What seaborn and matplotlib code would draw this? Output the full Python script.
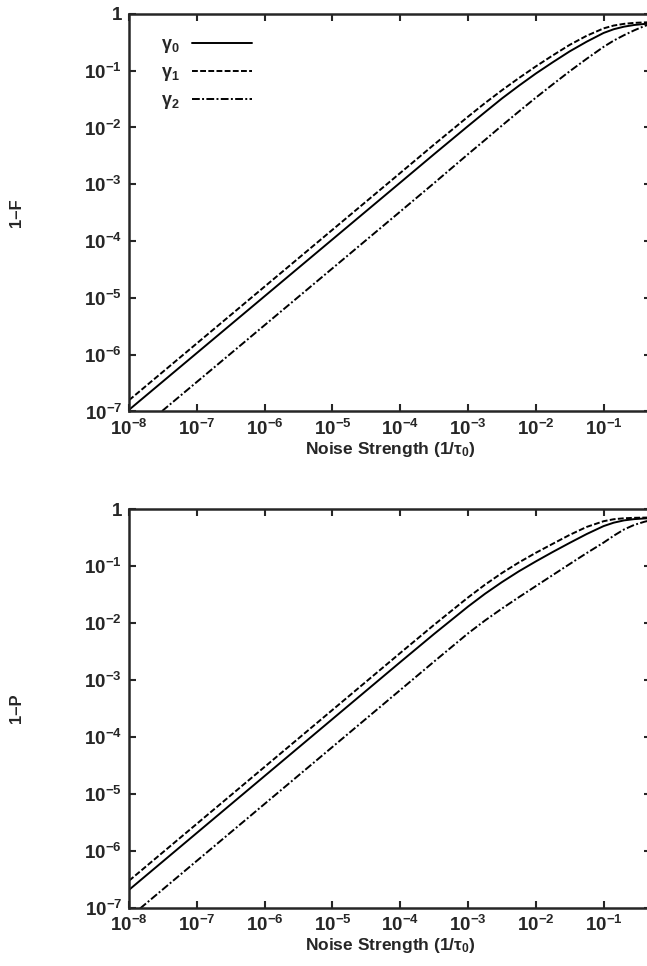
import numpy as np
import pandas as pd
import matplotlib
matplotlib.use("Agg")
import matplotlib.pyplot as plt
import seaborn as sns
from matplotlib.ticker import FixedLocator, FuncFormatter, NullLocator

# ---- data ----
noise = [1e-8, 1e-4, 3.16e-4, 1e-3, 1.78e-3, 3.16e-3, 5.62e-3, 1e-2, 1.78e-2,
         3.16e-2, 5.62e-2, 0.1, 0.141, 0.2, 0.282, 0.398, 0.5]

# top panel: 1-F
F_g0 = [1.07e-7, 1.07e-3, 3.39e-3, 0.0106, 0.0186, 0.0324, 0.0543, 0.0891, 0.141,
        0.219, 0.324, 0.462, 0.537, 0.596, 0.638, 0.665, 0.676]
F_g1 = [1.58e-7, 1.58e-3, 5.01e-3, 0.0155, 0.0269, 0.0452, 0.0741, 0.119, 0.186,
        0.285, 0.412, 0.556, 0.624, 0.668, 0.695, 0.708, 0.713]
F_g2 = [3.31e-8, 3.31e-4, 1.05e-3, 3.39e-3, 6.03e-3, 0.0108, 0.0191, 0.0335, 0.0575,
        0.0977, 0.162, 0.263, 0.339, 0.422, 0.513, 0.610, 0.668]

# bottom panel: 1-P
P_g0 = [2.04e-7, 2.04e-3, 6.38e-3, 0.0193, 0.0324, 0.0519, 0.0804, 0.120, 0.176,
        0.254, 0.363, 0.501, 0.575, 0.631, 0.664, 0.682, 0.692]
P_g1 = [2.95e-7, 2.95e-3, 9.23e-3, 0.0279, 0.0468, 0.075, 0.115, 0.170, 0.245,
        0.351, 0.484, 0.610, 0.661, 0.687, 0.700, 0.706, 0.708]
P_g2 = [6.6e-8, 6.6e-4, 2.09e-3, 6.53e-3, 0.011, 0.0178, 0.0282, 0.0442, 0.0692,
        0.108, 0.168, 0.257, 0.339, 0.437, 0.525, 0.596, 0.638]

series_names = [r"$\gamma_0$", r"$\gamma_1$", r"$\gamma_2$"]
x_ticks = [1e-8, 1e-7, 1e-6, 1e-5, 1e-4, 1e-3, 1e-2, 1e-1]
y_ticks = [1e-7, 1e-6, 1e-5, 1e-4, 1e-3, 1e-2, 1e-1, 1]
x_label = r"Noise Strength (1/$\tau_0$)"
y_labels = ["1\u2013F", "1\u2013P"]

# ---- style ----
sns.set_style("ticks")
plt.rcParams["font.family"] = ["Liberation Sans", "DejaVu Sans"]
plt.rcParams["font.weight"] = "bold"
plt.rcParams["mathtext.fontset"] = "custom"
plt.rcParams["mathtext.rm"] = "Liberation Sans:bold"
plt.rcParams["mathtext.bf"] = "Liberation Sans:bold"
plt.rcParams["mathtext.it"] = "Liberation Sans:bold"
plt.rcParams["mathtext.sf"] = "Liberation Sans:bold"

def make_df(a, b, c):
    rows = []
    for name, vals in zip(series_names, [a, b, c]):
        for x, y in zip(noise, vals):
            rows.append({"noise": x, "val": y, "gamma": name})
    return pd.DataFrame(rows)

dashes = {series_names[0]: "", series_names[1]: (3, 1.2), series_names[2]: (4, 1.2, 1, 1.2)}

fig = plt.figure(figsize=(6.47, 9.66), dpi=100)
W, H = 647.0, 966.0
left_px, right_px = 129.0, 651.0
ax_top = fig.add_axes([left_px / W, 1 - 411.5 / H, (right_px - left_px) / W, (411.5 - 13.9) / H])
ax_bot = fig.add_axes([left_px / W, 1 - 907.5 / H, (right_px - left_px) / W, (907.5 - 509.0) / H])

def fmt(v, pos):
    e = int(round(np.log10(v)))
    if e == 0:
        return "1"
    return r"$\mathbf{10^{%d}}$" % e

for ax, df, ylab, leg in [(ax_top, make_df(F_g0, F_g1, F_g2), y_labels[0], True),
                          (ax_bot, make_df(P_g0, P_g1, P_g2), y_labels[1], False)]:
    sns.lineplot(data=df, x="noise", y="val", style="gamma", dashes=dashes,
                 color="black", linewidth=1.4, ax=ax, legend=leg,
                 style_order=series_names)
    ax.set_xscale("log")
    ax.set_yscale("log")
    ax.set_xlim(1e-8, 0.5)
    ax.set_ylim(1e-7, 1)
    ax.xaxis.set_major_locator(FixedLocator(x_ticks))
    ax.yaxis.set_major_locator(FixedLocator(y_ticks))
    ax.xaxis.set_minor_locator(NullLocator())
    ax.yaxis.set_minor_locator(NullLocator())
    ax.xaxis.set_major_formatter(FuncFormatter(fmt))
    ax.yaxis.set_major_formatter(FuncFormatter(fmt))
    ax.tick_params(direction="in", length=5, width=1.5, top=True, right=True,
                   labelsize=13.5, pad=5)
    for s in ax.spines.values():
        s.set_visible(True)
        s.set_linewidth(1.8)
    ax.set_xlabel(x_label, fontsize=12.5, fontweight="bold", labelpad=1)
    ax.set_ylabel("")
    ax.text(-0.216, 0.5, ylab, transform=ax.transAxes, rotation=90,
            ha="center", va="center", fontsize=12, fontweight="bold")
    if leg:
        handles, labels = ax.get_legend_handles_labels()
        ax.legend(handles, labels, loc="upper left", bbox_to_anchor=(0.03, 0.985),
                  frameon=False, markerfirst=False, handlelength=3.3,
                  handletextpad=0.7, labelspacing=0.5, fontsize=13)

fig.savefig("out.png", dpi=100)
